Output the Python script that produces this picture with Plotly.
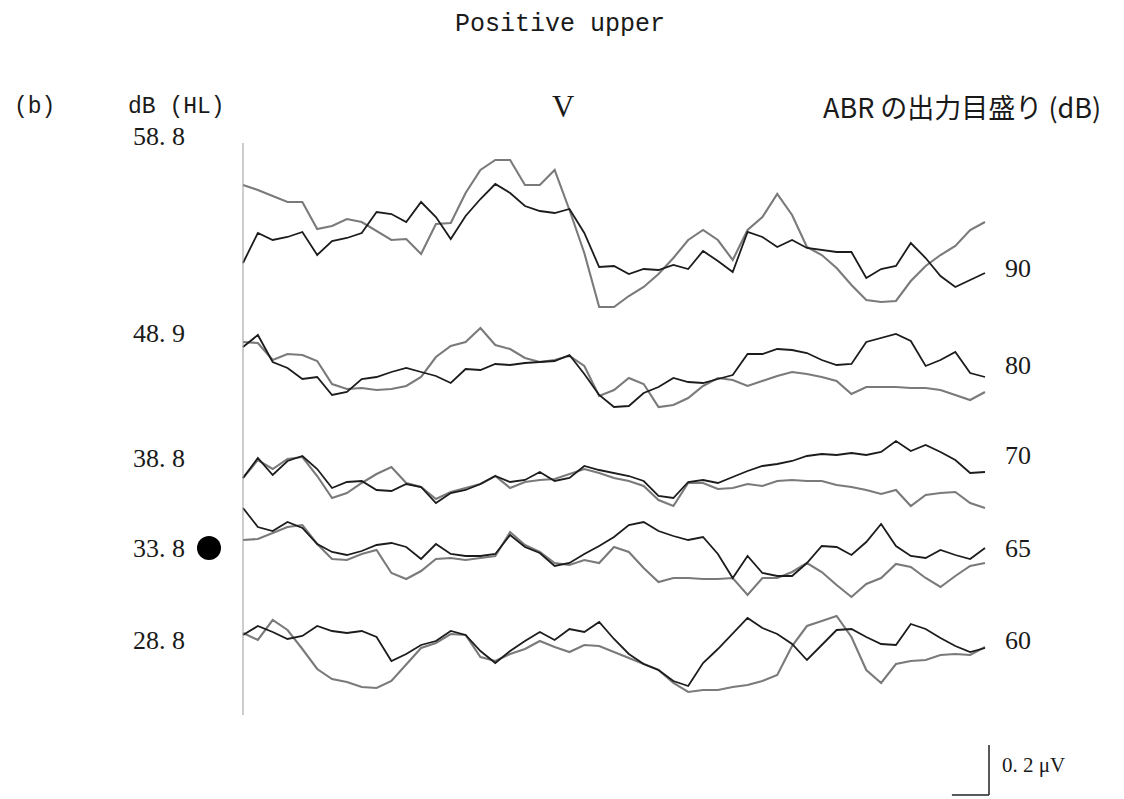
import plotly.graph_objects as go

# ---------------- data (time in ms, amplitude in µV relative to each trace's baseline) -------------
TIME_MS = [0.0, 0.2, 0.4, 0.6, 0.8, 1.0, 1.2, 1.4, 1.6, 1.8,
           2.0, 2.2, 2.4, 2.6, 2.8, 3.0, 3.2, 3.4, 3.6, 3.8,
           4.0, 4.2, 4.4, 4.6, 4.8, 5.0, 5.2, 5.4, 5.6, 5.8,
           6.0, 6.2, 6.4, 6.6, 6.8, 7.0, 7.2, 7.4, 7.6, 7.8,
           8.0, 8.2, 8.4, 8.6, 8.8, 9.0, 9.2, 9.4, 9.6, 9.8, 10.0]

LEVELS_HL = ["58. 8", "48. 9", "38. 8", "33. 8", "28. 8"]
LEVELS_ABR = ["90", "80", "70", "65", "60"]

ABR90_A = [-0.092, 0.028, 0.000, 0.012, 0.032, -0.060, -0.004, 0.008, 0.028, 0.112,
           0.104, 0.072, 0.152, 0.092, 0.004, 0.096, 0.164, 0.224, 0.188, 0.136,
           0.116, 0.108, 0.124, 0.028, -0.108, -0.104, -0.136, -0.116, -0.120, -0.100,
           -0.116, -0.044, -0.084, -0.128, 0.032, 0.012, -0.028, 0.000, -0.032, -0.040,
           -0.048, -0.048, -0.152, -0.116, -0.104, -0.012, -0.072, -0.144, -0.188, -0.160, -0.132]
ABR90_B = [0.220, 0.200, 0.176, 0.152, 0.152, 0.044, 0.056, 0.084, 0.072, 0.036,
           0.000, 0.004, -0.056, 0.064, 0.068, 0.188, 0.280, 0.320, 0.320, 0.220,
           0.220, 0.280, 0.120, -0.052, -0.268, -0.268, -0.224, -0.188, -0.136, -0.072,
           0.000, 0.040, 0.000, -0.080, 0.040, 0.092, 0.184, 0.100, -0.028, -0.060,
           -0.112, -0.180, -0.240, -0.248, -0.244, -0.164, -0.104, -0.060, -0.024, 0.040, 0.072]

ABR80_A = [0.092, 0.140, 0.032, 0.008, -0.036, -0.028, -0.100, -0.088, -0.036, -0.028,
           -0.008, 0.008, -0.008, -0.024, -0.052, 0.004, 0.000, 0.024, 0.020, 0.028,
           0.032, 0.036, 0.060, -0.016, -0.100, -0.148, -0.144, -0.092, -0.068, -0.032,
           -0.048, -0.052, -0.036, -0.020, 0.064, 0.064, 0.084, 0.080, 0.068, 0.040,
           0.020, 0.024, 0.112, 0.128, 0.144, 0.116, 0.016, 0.040, 0.072, -0.012, -0.028]
ABR80_B = [0.112, 0.108, 0.040, 0.064, 0.060, 0.036, -0.056, -0.076, -0.072, -0.080,
           -0.076, -0.064, -0.028, 0.052, 0.096, 0.112, 0.168, 0.100, 0.084, 0.048,
           0.032, 0.040, 0.056, 0.016, -0.104, -0.080, -0.032, -0.056, -0.148, -0.140,
           -0.112, -0.064, -0.032, -0.040, -0.064, -0.044, -0.024, -0.008, -0.016, -0.028,
           -0.044, -0.096, -0.068, -0.068, -0.068, -0.072, -0.072, -0.080, -0.100, -0.120, -0.088]

ABR70_A = [0.008, 0.088, 0.020, 0.076, 0.096, 0.044, -0.032, -0.008, -0.004, -0.040,
           -0.044, -0.016, -0.028, -0.092, -0.052, -0.040, -0.016, 0.016, -0.008, 0.000,
           0.032, -0.004, 0.008, 0.056, 0.040, 0.028, 0.016, -0.004, -0.064, -0.072,
           -0.008, 0.000, -0.012, 0.012, 0.036, 0.056, 0.064, 0.076, 0.096, 0.104,
           0.100, 0.108, 0.100, 0.112, 0.156, 0.116, 0.140, 0.112, 0.080, 0.028, 0.032]
ABR70_B = [0.008, 0.080, 0.044, 0.084, 0.092, 0.016, -0.072, -0.052, -0.012, 0.024,
           0.052, -0.012, -0.028, -0.076, -0.048, -0.032, -0.016, 0.016, -0.032, -0.008,
           0.000, 0.004, 0.024, 0.044, 0.028, 0.008, -0.004, -0.024, -0.080, -0.104,
           -0.012, -0.012, -0.036, -0.032, -0.016, -0.024, -0.004, 0.000, -0.004, -0.004,
           -0.020, -0.028, -0.040, -0.056, -0.040, -0.104, -0.060, -0.052, -0.048, -0.092, -0.112]

ABR65_A = [0.208, 0.132, 0.116, 0.152, 0.128, 0.064, 0.032, 0.020, 0.036, 0.060,
           0.068, 0.052, 0.004, 0.064, 0.024, 0.016, 0.016, 0.024, 0.100, 0.052,
           0.028, -0.024, -0.012, 0.024, 0.056, 0.092, 0.140, 0.152, 0.116, 0.096,
           0.080, 0.092, 0.024, -0.072, 0.016, -0.052, -0.064, -0.064, -0.012, 0.056,
           0.052, 0.020, 0.072, 0.144, 0.056, 0.016, 0.008, 0.040, 0.020, 0.004, 0.048]
ABR65_B = [0.080, 0.084, 0.108, 0.132, 0.140, 0.064, 0.004, 0.000, 0.024, 0.040,
           -0.052, -0.076, -0.044, 0.004, 0.008, 0.000, 0.008, 0.016, 0.112, 0.060,
           0.032, -0.012, -0.020, 0.000, -0.012, 0.052, 0.032, -0.032, -0.088, -0.072,
           -0.072, -0.076, -0.076, -0.072, -0.140, -0.072, -0.072, -0.048, -0.012, -0.048,
           -0.100, -0.148, -0.096, -0.072, -0.016, -0.028, -0.072, -0.108, -0.064, -0.024, -0.012]

ABR60_A = [0.060, 0.096, 0.072, 0.044, 0.056, 0.096, 0.076, 0.068, 0.076, 0.052,
           -0.044, -0.016, 0.020, 0.036, 0.076, 0.060, -0.004, -0.052, -0.004, 0.036,
           0.072, 0.040, 0.084, 0.072, 0.112, 0.044, -0.016, -0.056, -0.080, -0.124,
           -0.144, -0.052, 0.004, 0.068, 0.128, 0.088, 0.064, 0.024, -0.040, 0.020,
           0.080, 0.084, 0.052, 0.024, 0.020, 0.104, 0.084, 0.048, 0.016, -0.008, 0.008]
ABR60_B = [0.068, 0.040, 0.120, 0.080, 0.004, -0.076, -0.116, -0.128, -0.148, -0.152,
           -0.124, -0.060, 0.008, 0.028, 0.064, 0.060, -0.028, -0.044, -0.016, 0.004,
           0.036, 0.012, -0.008, 0.020, 0.016, -0.008, -0.032, -0.056, -0.080, -0.132,
           -0.168, -0.160, -0.160, -0.148, -0.140, -0.124, -0.100, 0.016, 0.096, 0.116,
           0.136, 0.052, -0.080, -0.132, -0.056, -0.044, -0.040, -0.020, -0.016, -0.020, 0.012]

SCALE_BAR_UV = 0.2
SCALE_BAR_MS = 0.5

# ---------------- layout constants (pixel geometry of the page) ----------------
W, H = 1124, 799
PX_PER_MS = 74.2
PX_PER_UV = 250.0
X0_PX = 243                      # x pixel of t = 0 ms
STACK_OFFSETS = [2.236, 1.716, 1.276, 0.956, 0.596]   # µV, vertical stacking of each level
LABEL_Y_PX = [137, 333, 458, 548, 640]
RIGHT_Y_PX = [268, 365, 455, 548, 640]

DARK = "#1c1c1c"
GREY = "#7a7a7a"

pairs = [(ABR90_A, ABR90_B), (ABR80_A, ABR80_B), (ABR70_A, ABR70_B),
         (ABR65_A, ABR65_B), (ABR60_A, ABR60_B)]

fig = go.Figure()
for (a, b), off, lab in zip(pairs, STACK_OFFSETS, LEVELS_ABR):
    fig.add_trace(go.Scatter(x=TIME_MS, y=[v + off for v in b], mode="lines",
                             line=dict(color=GREY, width=2.1), name=lab + " dB (2)",
                             hoverinfo="skip"))
    fig.add_trace(go.Scatter(x=TIME_MS, y=[v + off for v in a], mode="lines",
                             line=dict(color=DARK, width=1.8), name=lab + " dB (1)",
                             hoverinfo="skip"))

x_min = -X0_PX / PX_PER_MS
x_max = (W - X0_PX) / PX_PER_MS
y_max = H / PX_PER_UV


def px_x(px):
    return (px - X0_PX) / PX_PER_MS


def px_y(py):
    return (H - py) / PX_PER_UV


shapes = []
# vertical time-zero line
shapes.append(dict(type="line", xref="x", yref="y", x0=0, x1=0, y0=px_y(715), y1=px_y(143),
                   line=dict(color="#9a9a9a", width=1)))
# scale bar
bar_x = px_x(989)
bar_y0 = px_y(795)
shapes.append(dict(type="line", xref="x", yref="y", x0=bar_x, x1=bar_x,
                   y0=bar_y0, y1=bar_y0 + SCALE_BAR_UV, line=dict(color="#222", width=1.5)))
shapes.append(dict(type="line", xref="x", yref="y", x0=bar_x - SCALE_BAR_MS, x1=bar_x,
                   y0=bar_y0, y1=bar_y0, line=dict(color="#222", width=1.5)))
# black dot marking threshold
shapes.append(dict(type="circle", xref="paper", yref="paper",
                   x0=197 / W, x1=221 / W, y0=1 - 560 / H, y1=1 - 536 / H,
                   fillcolor="black", line=dict(color="black", width=0)))

ann = []


def text(s, xpx, ypx, size, family, xanchor="center"):
    ann.append(dict(text=s, x=xpx / W, y=1 - ypx / H, xref="paper", yref="paper",
                    xanchor=xanchor, yanchor="middle", showarrow=False,
                    font=dict(size=size, family=family, color="#1a1a1a")))


MONO = "Liberation Mono, DejaVu Sans Mono, monospace"
SERIF = "Liberation Serif, DejaVu Serif, serif"
CJK = "Noto Sans CJK JP, Noto Sans, sans-serif"

text("Positive upper", 560, 24, 25, MONO)
text("(b)", 34, 107, 23, MONO)
text("dB (HL)", 176, 107, 23, MONO)
text("V", 563, 107, 31, SERIF)
text("ABR の出力目盛り (dB)", 962, 107, 27, CJK)

for s, y in zip(LEVELS_HL, LABEL_Y_PX):
    text(s, 131, y, 26, SERIF, xanchor="left")
for s, y in zip(LEVELS_ABR, RIGHT_Y_PX):
    text(s, 1003, y, 26, SERIF, xanchor="left")

text("0. 2 μV", 1000, 765, 21, SERIF, xanchor="left")

fig.update_layout(
    width=W, height=H,
    margin=dict(l=0, r=0, t=0, b=0),
    paper_bgcolor="white", plot_bgcolor="white",
    showlegend=False,
    xaxis=dict(range=[x_min, x_max], visible=False, fixedrange=True),
    yaxis=dict(range=[0, y_max], visible=False, fixedrange=True),
    shapes=shapes, annotations=ann,
)

fig.write_html("out.html", config={"displayModeBar": False})
